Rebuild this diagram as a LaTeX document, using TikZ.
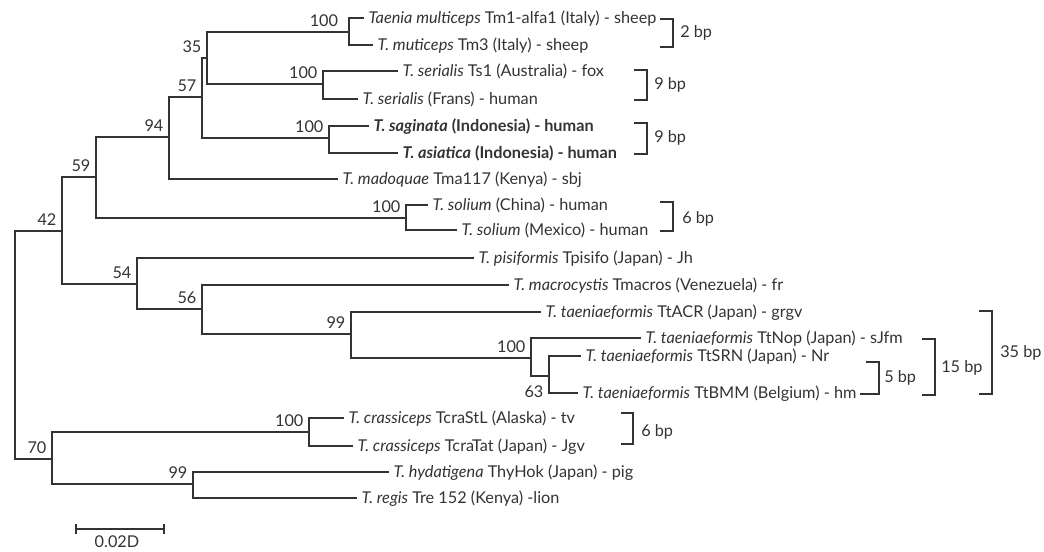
\documentclass[tikz,border=0pt]{standalone}
\usepackage{fontspec}
\setmainfont{Lato}
\definecolor{treegray}{HTML}{333333}
\newcommand{\treefont}{\fontsize{12.2}{14}\selectfont}

\begin{document}
\begin{tikzpicture}[x=0.75pt,y=-0.75pt,
    branch/.style={draw=treegray, line width=0.9pt, line cap=rect},
    tip/.style={anchor=west, inner xsep=4pt, inner ysep=0pt, text height=8.7pt, text depth=0pt,
      text=treegray, font=\treefont},
    boot/.style={anchor=south east, inner sep=4pt, text=treegray, font=\treefont},
    bplabel/.style={anchor=west, inner sep=3pt, text=treegray, font=\treefont}]
  \useasboundingbox (0,0) rectangle (1044,551);

  % internal nodes of the tree
  \coordinate (root) at (15,231);
  \coordinate (n42) at (62,231);
  \coordinate (n59) at (96,177);
  \coordinate (n94) at (169,137);
  \coordinate (n57) at (202,97);
  \coordinate (n35) at (207,58);
  \coordinate (nmul) at (349,32);
  \coordinate (nser) at (323,84);
  \coordinate (nsag) at (329,138);
  \coordinate (nsol) at (406,218);
  \coordinate (n54) at (137,284);
  \coordinate (n56) at (202,309);
  \coordinate (n99a) at (351,334);
  \coordinate (n100b) at (531,358);
  \coordinate (n63) at (549,376);
  \coordinate (n70) at (52,459);
  \coordinate (ncra) at (309,432);
  \coordinate (nhyd) at (193,484);

  % tips
  \node[tip] (tmul1) at (363,18) {\textit{Taenia multiceps} Tm1-alfa1 (Italy) - sheep};
  \node[tip] (tmul2) at (372,45) {\textit{T. muticeps} Tm3 (Italy) - sheep};
  \node[tip] (tser1) at (397,71) {\textit{T. serialis} Ts1 (Australia) - fox};
  \node[tip] (tser2) at (357,99) {\textit{T. serialis} (Frans) - human};
  \node[tip] (tsag) at (368,126) {\bfseries\textit{T. saginata} (Indonesia) - human};
  \node[tip] (tasi) at (397,153) {\bfseries\textit{T. asiatica} (Indonesia) - human};
  \node[tip] (tmad) at (337,179) {\textit{T. madoquae} Tma117 (Kenya) - sbj};
  \node[tip] (tsol1) at (427,205) {\textit{T. solium} (China) - human};
  \node[tip] (tsol2) at (456,230) {\textit{T. solium} (Mexico) - human};
  \node[tip] (tpis) at (473,258) {\textit{T. pisiformis} Tpisifo (Japan) - Jh};
  \node[tip] (tmac) at (508,285) {\textit{T. macrocystis} Tmacros (Venezuela) - fr};
  \node[tip] (ttacr) at (540,312) {\textit{T. taeniaeformis} TtACR (Japan) - grgv};
  \node[tip] (ttnop) at (640,338) {\textit{T. taeniaeformis} TtNop (Japan) - sJfm};
  \node[tip] (ttsrn) at (580,356) {\textit{T. taeniaeformis} TtSRN (Japan) - Nr};
  \node[tip] (ttbmm) at (577,393) {\textit{T. taeniaeformis} TtBMM (Belgium) - hm};
  \node[tip] (tcra1) at (343,418) {\textit{T. crassiceps} TcraStL (Alaska) - tv};
  \node[tip] (tcra2) at (352,446) {\textit{T. crassiceps} TcraTat (Japan) - Jgv};
  \node[tip] (thyd) at (388,472) {\textit{T. hydatigena} ThyHok (Japan) - pig};
  \node[tip] (treg) at (356,498) {\textit{T. regis} Tre 152 (Kenya) -lion};

  % branches
  \draw[branch] (root) |- (n42);
  \draw[branch] (root) |- (n70);
  \draw[branch] (n42) |- (n59);
  \draw[branch] (n42) |- (n54);
  \draw[branch] (n59) |- (n94);
  \draw[branch] (n59) |- (nsol);
  \draw[branch] (n94) |- (n57);
  \draw[branch] (n94) |- (tmad);
  \draw[branch] (n57) |- (n35);
  \draw[branch] (n57) |- (nsag);
  \draw[branch] (n35) |- (nmul);
  \draw[branch] (n35) |- (nser);
  \draw[branch] (nmul) |- (tmul1);
  \draw[branch] (nmul) |- (tmul2);
  \draw[branch] (nser) |- (tser1);
  \draw[branch] (nser) |- (tser2);
  \draw[branch] (nsag) |- (tsag);
  \draw[branch] (nsag) |- (tasi);
  \draw[branch] (nsol) |- (tsol1);
  \draw[branch] (nsol) |- (tsol2);
  \draw[branch] (n54) |- (tpis);
  \draw[branch] (n54) |- (n56);
  \draw[branch] (n56) |- (tmac);
  \draw[branch] (n56) |- (n99a);
  \draw[branch] (n99a) |- (ttacr);
  \draw[branch] (n99a) |- (n100b);
  \draw[branch] (n100b) |- (ttnop);
  \draw[branch] (n100b) |- (n63);
  \draw[branch] (n63) |- (ttsrn);
  \draw[branch] (n63) |- (ttbmm);
  \draw[branch] (n70) |- (ncra);
  \draw[branch] (n70) |- (nhyd);
  \draw[branch] (ncra) |- (tcra1);
  \draw[branch] (ncra) |- (tcra2);
  \draw[branch] (nhyd) |- (thyd);
  \draw[branch] (nhyd) |- (treg);

  % bootstrap values
  \node[boot] (b42) at (n42) {42};
  \node[boot] (b59) at (n59) {59};
  \node[boot] (b94) at (n94) {94};
  \node[boot] (b57) at (n57) {57};
  \node[boot] (b35) at (n35) {35};
  \node[boot, xshift=-4] (bmul) at (nmul) {100};
  \node[boot] (bser) at (nser) {100};
  \node[boot] (bsag) at (nsag) {100};
  \node[boot] (bsol) at (nsol) {100};
  \node[boot] (b54) at (n54) {54};
  \node[boot] (b56) at (n56) {56};
  \node[boot] (b99a) at (n99a) {99};
  \node[boot] (b100b) at (n100b) {100};
  \node[boot, anchor=north east, yshift=-3] (b63) at (n63) {63};
  \node[boot] (b70) at (n70) {70};
  \node[boot] (bcra) at (ncra) {100};
  \node[boot] (bhyd) at (nhyd) {99};

  % differences in bp
  \draw[branch] (661,19) -| (673,47) -- (661,47);
  \node[bplabel] (d2) at (676,33) {2 bp};
  \draw[branch] (635,70) -| (647,100) -- (635,100);
  \node[bplabel] (d9a) at (650,85) {9 bp};
  \draw[branch] (635,123) -| (647,154) -- (635,154);
  \node[bplabel] (d9b) at (650,138) {9 bp};
  \draw[branch] (661,202) -| (673,231) -- (661,231);
  \node[bplabel] (d6a) at (678,219) {6 bp};
  \draw[branch] (867,362) -| (879,394) -- (861,394);
  \node[bplabel] (d5) at (880,378) {5 bp};
  \draw[branch] (923,339) -| (935,395) -- (923,395);
  \node[bplabel] (d15) at (937,368) {15 bp};
  \draw[branch] (980,311) -| (992,394) -- (980,394);
  \node[bplabel] (d35) at (996,353) {35 bp};
  \draw[branch] (622,413) -| (633,444) -- (622,444);
  \node[bplabel] (d6b) at (637,432) {6 bp};

  % scale bar
  \draw[branch] (76,529) -- (164,529);
  \draw[branch] (76,525) -- (76,533);
  \draw[branch] (164,525) -- (164,533);
  \node[bplabel, anchor=center, inner sep=0pt] (scl) at (117,542) {0.02D};
\end{tikzpicture}
\end{document}
